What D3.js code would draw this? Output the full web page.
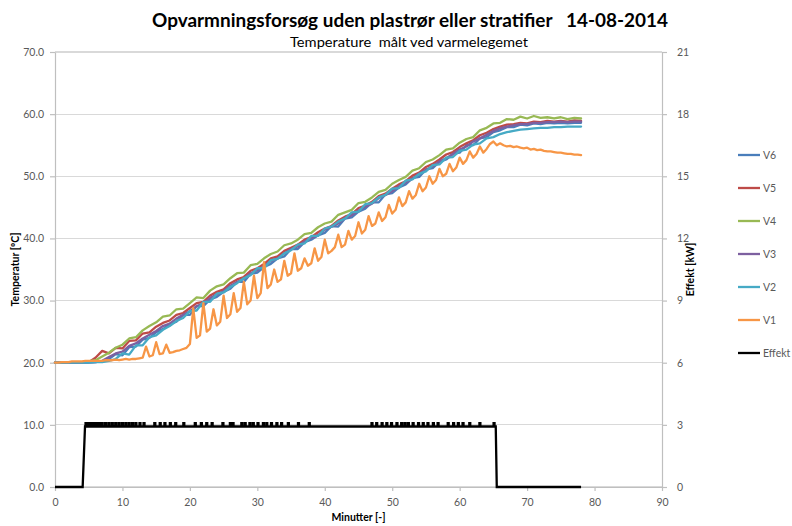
<!DOCTYPE html>
<html><head><meta charset="utf-8">
<script src="https://cdn.jsdelivr.net/npm/d3@7"></script>
<style>
body{margin:0;background:#fff}
text{font-family:Lato,"Open Sans","Noto Sans",sans-serif}
</style>
</head><body>
<svg id="chart" width="792" height="526"></svg>
<script>
// ---------- DATA ----------
const titleText = "Opvarmningsforsøg uden plastrør eller stratifier   14-08-2014";
const subtitleText = "Temperature  målt ved varmelegemet";
const xTicks = [0,10,20,30,40,50,60,70,80,90];
const leftTicks = [0,10,20,30,40,50,60,70];
const rightTicks = [0,3,6,9,12,15,18,21];
const legendNames = ["V6","V5","V4","V3","V2","V1","Effekt"];

const minutes = [0,1,2,3,4,5,6,7,8,9,10,11,12,13,14,15,16,17,18,19,20,21,22,23,24,25,26,27,28,29,30,31,32,33,34,35,36,37,38,39,40,41,42,43,44,45,46,47,48,49,50,51,52,53,54,55,56,57,58,59,60,61,62,63,64,65,66,67,68,69,70,71,72,73,74,75,76,77,78];

const V6 = [20.0,20.0,20.0,20.0,20.0,20.0,20.1,20.2,20.6,21.4,21.2,22.5,22.6,23.7,24.0,24.9,25.4,26.2,26.6,27.7,27.7,29.1,29.1,30.2,30.6,31.4,31.9,33.0,33.0,34.3,34.5,35.4,35.9,36.8,37.1,38.3,38.3,39.4,39.8,40.5,40.9,42.0,41.9,43.2,43.4,44.3,44.8,45.8,45.8,47.1,47.3,48.2,48.7,49.7,49.9,51.1,51.3,52.3,52.7,53.6,53.8,55.0,55.0,56.1,56.3,57.1,57.4,57.9,57.9,58.3,58.2,58.5,58.4,58.6,58.5,58.6,58.5,58.6,58.6];
const V5 = [20.0,20.0,20.0,20.0,20.1,20.1,20.8,21.9,21.5,22.4,22.3,23.5,23.6,24.7,24.9,25.8,26.4,26.8,27.7,28.0,28.8,29.6,29.8,30.8,31.4,31.8,32.8,33.4,33.8,34.8,35.2,35.9,36.8,37.1,38.0,38.5,39.0,39.8,40.2,41.0,41.6,42.0,42.9,43.5,43.9,44.9,45.3,45.9,46.8,47.2,48.0,48.7,49.2,50.1,50.6,51.5,52.0,52.7,53.5,53.9,54.7,55.3,55.8,56.6,57.0,57.6,58.0,58.3,58.4,58.6,58.5,58.8,58.7,58.9,58.8,58.9,58.8,59.0,58.9];
const V4 = [20.0,20.0,20.1,20.1,20.1,20.2,20.4,21.0,21.6,22.4,22.9,23.9,24.1,25.2,25.9,26.5,27.4,27.6,28.6,28.7,29.6,30.5,30.4,31.6,32.3,32.6,33.6,34.4,34.5,35.7,35.9,36.8,37.5,37.9,38.9,39.2,39.8,40.7,40.9,41.8,42.4,42.7,43.8,44.2,44.6,45.7,45.9,46.6,47.5,47.8,48.8,49.4,49.9,50.9,51.3,52.3,52.7,53.4,54.3,54.5,55.4,56.0,56.3,57.4,57.8,58.5,58.6,59.2,59.1,59.6,59.3,59.7,59.4,59.5,59.3,59.5,59.2,59.4,59.3];
const V3 = [20.0,20.0,20.0,20.0,20.0,20.1,20.1,20.3,20.9,21.5,21.8,22.7,23.1,23.9,24.5,25.1,25.9,26.3,27.1,27.7,28.3,29.1,29.5,30.4,31.0,31.5,32.4,33.0,33.5,34.4,34.9,35.5,36.4,36.8,37.6,38.3,38.7,39.5,40.1,40.5,41.4,41.9,42.4,43.3,43.7,44.5,45.1,45.6,46.5,47.0,47.6,48.4,49.0,49.6,50.4,51.0,51.6,52.4,52.9,53.6,54.3,54.8,55.6,56.1,56.7,57.3,57.7,58.0,58.2,58.4,58.4,58.6,58.6,58.7,58.7,58.8,58.7,58.8,58.8];
const V2 = [20.0,20.0,20.0,20.0,20.0,20.0,20.1,20.1,20.3,20.6,21.5,21.3,22.8,22.8,24.1,24.4,25.3,25.9,26.7,27.2,28.3,28.4,29.8,29.8,31.1,31.3,32.2,32.8,33.6,34.1,35.2,35.2,36.5,36.7,37.6,38.1,39.0,39.2,40.4,40.4,41.6,41.9,42.7,43.2,44.2,44.3,45.5,45.7,46.6,47.0,48.0,48.1,49.3,49.5,50.4,50.8,51.8,51.9,53.0,53.1,54.1,54.3,55.1,55.3,56.1,56.3,56.8,57.1,57.3,57.5,57.6,57.7,57.8,57.8,57.9,57.9,58.0,58.0,58.0];

const minutesV1 = [0,0.5,1,1.5,2,2.5,3,3.5,4,4.5,5,5.5,6,6.5,7,7.5,8,8.5,9,9.5,10,10.5,11,11.5,12,12.5,13,13.5,14,14.5,15,15.5,16,16.5,17,17.5,18,18.5,19,19.5,20,20.5,21,21.5,22,22.5,23,23.5,24,24.5,25,25.5,26,26.5,27,27.5,28,28.5,29,29.5,30,30.5,31,31.5,32,32.5,33,33.5,34,34.5,35,35.5,36,36.5,37,37.5,38,38.5,39,39.5,40,40.5,41,41.5,42,42.5,43,43.5,44,44.5,45,45.5,46,46.5,47,47.5,48,48.5,49,49.5,50,50.5,51,51.5,52,52.5,53,53.5,54,54.5,55,55.5,56,56.5,57,57.5,58,58.5,59,59.5,60,60.5,61,61.5,62,62.5,63,63.5,64,64.5,65,65.5,66,66.5,67,67.5,68,68.5,69,69.5,70,70.5,71,71.5,72,72.5,73,73.5,74,74.5,75,75.5,76,76.5,77,77.5,78];
const V1 = [20.0,20.0,20.1,20.1,20.1,20.2,20.2,20.2,20.2,20.3,20.3,20.3,20.3,
  20.3,20.3,20.4,20.4,20.4,20.5,20.4,20.5,20.6,20.5,20.6,20.6,20.7,
  20.8,22.6,21.0,21.2,23.3,21.4,21.5,22.9,21.6,21.7,21.9,22.0,22.2,22.4,
  23.0,28.8,24.0,24.4,29.6,25.0,25.5,28.6,26.0,26.6,30.8,27.2,
  27.8,31.2,28.2,28.8,33.0,29.4,30.0,34.0,30.4,31.2,36.2,32.0,
  32.6,35.0,33.0,33.4,36.4,34.0,34.4,37.6,34.8,35.2,36.8,35.6,
  36.0,38.4,36.4,37.0,39.8,37.6,38.0,38.6,40.6,38.6,39.0,41.2,
  39.8,40.4,42.6,40.8,41.4,43.6,42.0,42.4,44.2,42.8,43.4,45.4,
  44.0,44.6,46.6,45.2,45.8,47.6,46.4,47.0,48.8,47.6,48.2,50.0,
  48.8,49.4,51.2,50.0,50.4,52.0,50.8,51.4,53.0,52.0,52.6,54.0,
  53.0,53.6,54.8,53.8,54.4,55.2,55.6,55.0,55.3,55.0,54.8,54.9,
  54.7,54.8,54.6,54.5,54.6,54.3,54.4,54.2,54.3,54.1,54.0,54.0,53.9,53.8,53.8,53.7,53.6,53.6,53.5,53.5,53.4];

// Effekt [kW]: off, on at ~4.3 min, off at ~65.4 min; short pulses on top of base level
const effektOnOff = [4.1, 4.45, 65.35, 65.5];
const effektEnd = 78;
const effektBase = 2.92;
const effektPulse = 3.08;
const effektPulses = [4.6,4.8,5.0,5.2,5.4,5.6,5.8,6.0,6.2,6.4,6.6,6.8,7.0,7.5,8.0,8.5,9.0,9.5,10.0,10.5,11.0,11.5,12.0,12.6,13.2,14.8,15.6,16.3,17.1,17.9,19.1,20.8,21.7,22.5,23.3,24.9,26.0,26.4,27.7,28.2,28.9,29.4,30.1,30.9,31.4,32.1,32.9,33.6,34.6,36.1,37.7,47.0,47.7,48.5,49.2,49.9,50.7,51.4,51.9,52.4,53.1,53.9,54.6,55.3,56.1,56.8,58.3,59.1,59.8,60.5,61.5,63.0,65.1];

// ---------- CHART ----------
const colors = {V6:"#4a7ebb",V5:"#be4b48",V4:"#98b954",V3:"#7d60a0",V2:"#46aac5",V1:"#f79646",Effekt:"#000000"};
const svg = d3.select("#chart");
const X0=55, X1=662, Y0=487, Y1=52;
const x = d3.scaleLinear().domain([0,90]).range([X0,X1]);
const yL = d3.scaleLinear().domain([0,70]).range([Y0,Y1]);
const yR = d3.scaleLinear().domain([0,21]).range([Y0,Y1]);
const tickColor = "#595959";

// gridlines
svg.append("g").selectAll("line").data(leftTicks).join("line")
  .attr("x1",X0).attr("x2",X1).attr("y1",d=>yL(d)).attr("y2",d=>yL(d))
  .attr("stroke","#d9d9d9").attr("stroke-width",1.2).attr("shape-rendering","crispEdges");

function styleAxis(g){
  g.selectAll(".domain").attr("stroke","#bfbfbf").attr("stroke-width",1.2);
  g.selectAll(".tick line").attr("stroke","#bfbfbf").attr("stroke-width",1.2);
  g.selectAll("text").attr("fill",tickColor).style("font-size","10.5px").style("font-family","Lato,'Open Sans',sans-serif");
}
svg.append("g").attr("transform",`translate(${X0},0)`)
  .call(d3.axisLeft(yL).tickValues(leftTicks).tickFormat(d3.format(".1f")).tickSize(5).tickSizeOuter(0).tickPadding(6))
  .call(styleAxis);
svg.append("g").attr("transform",`translate(${X1},0)`)
  .call(d3.axisRight(yR).tickValues(rightTicks).tickFormat(d3.format("d")).tickSize(5).tickSizeOuter(0).tickPadding(10))
  .call(styleAxis);
svg.append("g").attr("transform",`translate(0,${Y0})`)
  .call(d3.axisBottom(x).tickValues(xTicks).tickFormat(d3.format("d")).tickSize(4).tickSizeOuter(0).tickPadding(8))
  .call(styleAxis);

// temperature lines
const lineT = d3.line().x(d=>x(d[0])).y(d=>yL(d[1])).curve(d3.curveLinear);
const tempSeries = [["V6",minutes,V6],["V5",minutes,V5],["V4",minutes,V4],["V3",minutes,V3],["V2",minutes,V2],["V1",minutesV1,V1]];
const gl = svg.append("g");
tempSeries.forEach(([name,t,v])=>{
  gl.append("path").datum(d3.zip(t,v)).attr("d",lineT)
    .attr("fill","none").attr("stroke",colors[name]).attr("stroke-width",2.3)
    .attr("stroke-linejoin","round").attr("stroke-linecap","round");
});

// effekt line (secondary axis)
const eff = [[0,0],[effektOnOff[0],0],[effektOnOff[1],effektBase]];
effektPulses.forEach(p=>{
  eff.push([p-0.07,effektBase],[p-0.07,effektPulse],[p+0.07,effektPulse],[p+0.07,effektBase]);
});
eff.push([effektOnOff[2],effektBase],[effektOnOff[3],0],[effektEnd,0]);
const lineE = d3.line().x(d=>x(d[0])).y(d=>yR(d[1]));
svg.append("path").datum(eff).attr("d",lineE).attr("fill","none")
  .attr("stroke",colors.Effekt).attr("stroke-width",2.3).attr("stroke-linejoin","miter");

// titles
svg.append("text").attr("x",410).attr("y",27).attr("text-anchor","middle")
  .style("font-size","18px").style("font-weight","bold").attr("fill","#000")
  .attr("xml:space","preserve").style("white-space","pre")
  .attr("textLength",516).attr("lengthAdjust","spacingAndGlyphs").text(titleText);
svg.append("text").attr("x",409).attr("y",47).attr("text-anchor","middle")
  .style("font-size","13px").attr("fill","#000")
  .style("white-space","pre").attr("textLength",238).attr("lengthAdjust","spacingAndGlyphs").text(subtitleText);

// axis titles
svg.append("text").attr("transform",`translate(19,${(Y0+Y1)/2}) rotate(-90)`).attr("text-anchor","middle")
  .style("font-size","10.5px").style("font-weight","bold").attr("fill","#000").text("Temperatur [ºC]");
svg.append("text").attr("transform",`translate(694,${(Y0+Y1)/2}) rotate(-90)`).attr("text-anchor","middle")
  .style("font-size","10.5px").style("font-weight","bold").attr("fill","#000").text("Effekt [kW]");
svg.append("text").attr("x",(X0+X1)/2).attr("y",521).attr("text-anchor","middle")
  .style("font-size","10.5px").style("font-weight","bold").attr("fill","#000").text("Minutter [-]");

// legend
const lg = svg.append("g").selectAll("g").data(legendNames).join("g")
  .attr("transform",(d,i)=>`translate(738,${155+i*33})`);
lg.append("line").attr("x1",0).attr("x2",22).attr("y1",0).attr("y2",0)
  .attr("stroke",d=>colors[d]).attr("stroke-width",2.3);
lg.append("text").attr("x",25).attr("y",4).style("font-size","10.5px").attr("fill",tickColor).text(d=>d);
</script>
</body></html>
